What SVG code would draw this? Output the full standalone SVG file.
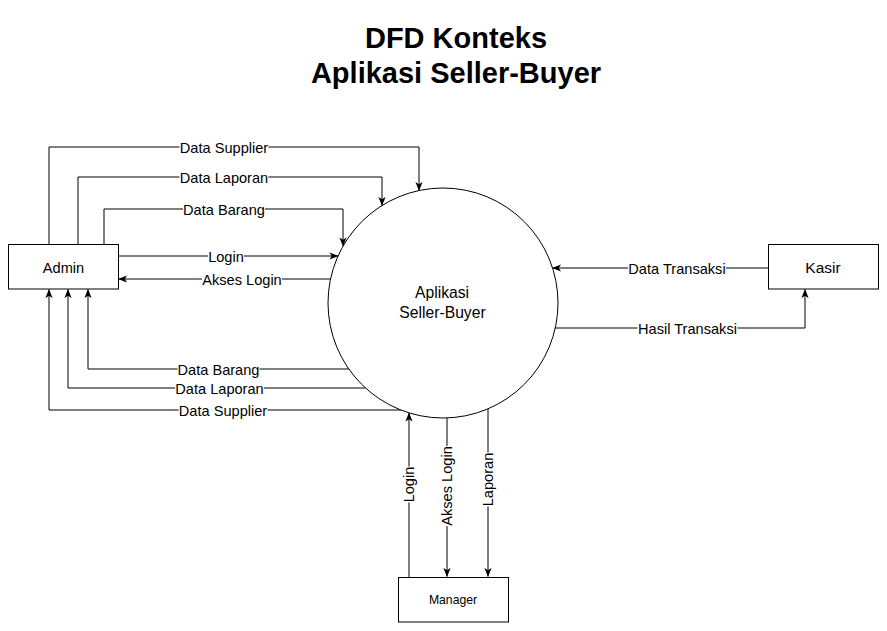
<svg xmlns="http://www.w3.org/2000/svg" width="887" height="631" viewBox="0 0 887 631">
<style>
.t{font-family:"Liberation Sans",Arial,sans-serif;fill:#000}
.title{font-size:29px;font-weight:bold;text-anchor:middle}
.lbl{font-size:14.6px;text-anchor:middle}
.node{fill:#fff;stroke:#000;stroke-width:1}
.edge{fill:none;stroke:#000;stroke-width:1;marker-end:url(#arr)}
.bg{fill:#fff}
</style>
<defs>
<marker id="arr" viewBox="0 0 10 10" refX="9.5" refY="5" markerWidth="9" markerHeight="9" markerUnits="userSpaceOnUse" orient="auto">
<path d="M0,1 L10,5 L0,9 L2.5,5 z" fill="#000"/>
</marker>
</defs>
<rect width="887" height="631" fill="#fff"/>
<g id="title">
<text class="t title" x="456" y="48">DFD Konteks</text>
<text class="t title" x="456" y="83">Aplikasi Seller-Buyer</text>
</g>
<g id="connectors">
<path class="edge" d="M49,244 V147 H419 V190.5"/>
<path class="edge" d="M78,244 V177 H382 V205.5"/>
<path class="edge" d="M104,244 V209 H343 V246"/>
<path class="edge" d="M118,256 H338"/>
<path class="edge" d="M330.5,279 H118.5"/>
<path class="edge" d="M349,369 H88 V289.5"/>
<path class="edge" d="M365.5,388 H68 V289.5"/>
<path class="edge" d="M401,410 H49 V289.5"/>
<path class="edge" d="M768,268 H552.5"/>
<path class="edge" d="M555,328 H805 V289.5"/>
<path class="edge" d="M409,577 V413"/>
<path class="edge" d="M447,418 V576.5"/>
<path class="edge" d="M488,409 V576.5"/>
<g id="edge-labels">
<rect class="bg" x="179.5" y="139" width="89" height="17"/>
<text class="t lbl" x="224" y="152.5">Data Supplier</text>
<rect class="bg" x="179.5" y="169" width="89" height="17"/>
<text class="t lbl" x="224" y="182.5">Data Laporan</text>
<rect class="bg" x="183" y="201" width="82" height="17"/>
<text class="t lbl" x="224" y="214.5">Data Barang</text>
<rect class="bg" x="208" y="248" width="36" height="17"/>
<text class="t lbl" x="226" y="261.5">Login</text>
<rect class="bg" x="202" y="271" width="80" height="17"/>
<text class="t lbl" x="242" y="284.5">Akses Login</text>
<rect class="bg" x="177.5" y="361" width="82" height="17"/>
<text class="t lbl" x="218.5" y="374.5">Data Barang</text>
<rect class="bg" x="175" y="380" width="89" height="17"/>
<text class="t lbl" x="219.5" y="393.5">Data Laporan</text>
<rect class="bg" x="178.5" y="402" width="89" height="17"/>
<text class="t lbl" x="223" y="415.5">Data Supplier</text>
<rect class="bg" x="628" y="260" width="98" height="17"/>
<text class="t lbl" x="677" y="273.5">Data Transaksi</text>
<rect class="bg" x="637.5" y="320" width="100" height="17"/>
<text class="t lbl" x="687.5" y="333.5">Hasil Transaksi</text>
<g transform="translate(409,484.5) rotate(-90)">
<rect class="bg" x="-18" y="-8.5" width="36" height="17"/>
<text class="t lbl" x="0" y="5">Login</text>
</g>
<g transform="translate(447,486) rotate(-90)">
<rect class="bg" x="-40" y="-8.5" width="80" height="17"/>
<text class="t lbl" x="0" y="5">Akses Login</text>
</g>
<g transform="translate(488,479.5) rotate(-90)">
<rect class="bg" x="-27" y="-8.5" width="54" height="17"/>
<text class="t lbl" x="0" y="5">Laporan</text>
</g>
</g>
</g>
<g id="process">
<circle class="node" cx="443" cy="303" r="115"/>
<text class="t" x="442" y="298" font-size="15.7" text-anchor="middle">Aplikasi</text>
<text class="t" x="442.5" y="318" font-size="15.7" text-anchor="middle">Seller-Buyer</text>
</g>
<g id="admin">
<rect class="node" x="8.5" y="244.5" width="110" height="44.5"/>
<text class="t" x="63.5" y="272.5" font-size="14.6" text-anchor="middle">Admin</text>
</g>
<g id="kasir">
<rect class="node" x="768.5" y="244.5" width="110" height="44.5"/>
<text class="t" x="823" y="272.5" font-size="15.5" text-anchor="middle">Kasir</text>
</g>
<g id="manager">
<rect class="node" x="398.5" y="577.5" width="110" height="44.5"/>
<text class="t" x="453" y="604" font-size="12.2" text-anchor="middle">Manager</text>
</g>
</svg>
